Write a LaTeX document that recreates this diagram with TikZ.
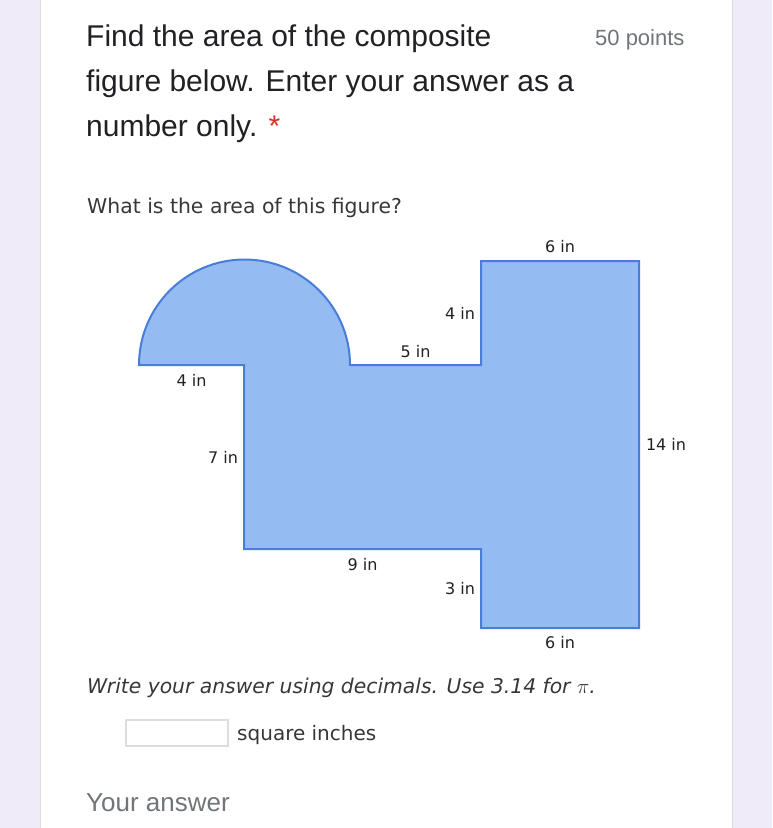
\documentclass[tikz,border=0pt]{standalone}
\usepackage{fontspec}
\setmainfont{Liberation Sans}
\newfontfamily\figfont{DejaVu Sans}
\usetikzlibrary{positioning}

\definecolor{pagebg}{HTML}{F0EBF8}
\definecolor{cardline}{HTML}{DADCE0}
\definecolor{inkdark}{HTML}{202124}
\definecolor{inkgray}{HTML}{70757A}
\definecolor{starred}{HTML}{D93025}
\definecolor{shapefill}{HTML}{94BCF2}
\definecolor{shapeline}{HTML}{4A7DD8}

\tikzset{
  title/.style = {anchor = base west, inner sep = 0pt, text = inkdark,
                  font = \fontsize{30}{36}\selectfont},
  prompt/.style = {anchor = base west, inner sep = 0pt, text = inkdark!90,
                   font = \figfont\fontsize{20.4}{24}\selectfont},
  lbl/.style = {inner sep = 0pt, text = inkdark,
                font = \figfont\fontsize{16}{18}\selectfont}
}

\begin{document}
\begin{tikzpicture}[x = 1pt, y = -1pt]

	\useasboundingbox (0, 0) rectangle (772, 828);
	\fill [pagebg] (0, 0) rectangle (772, 828);
	\draw [cardline, fill = white] (40, -2) rectangle (732, 830);

	% question header
	\node [title] (line1) at (86, 46) {Find the area of the composite};
	\node [title] (line2) at (86, 91) {figure below. Enter your answer as a};
	\node [title] (line3) at (86, 136) {number only. \textcolor{starred}{*}};
	\node [anchor = base west, inner sep = 0pt, text = inkgray,
	       font = \fontsize{22}{26}\selectfont] (points) at (595, 45) {50 points};

	\node [prompt] (ask) at (87, 213) {What is the area of this figure?};

	% composite figure
	\draw [shapeline, fill = shapefill, line width = 2pt, line join = miter]
		(139, 365) -- node [lbl, below = 8pt] {4 in} (244, 365)
		-- node [lbl, left = 5pt] {7 in} (244, 549)
		-- node [lbl, below = 8pt] {9 in} (481, 549)
		-- node [lbl, left = 5pt] {3 in} (481, 628)
		-- node [lbl, below = 7pt] {6 in} (639, 628)
		-- node [lbl, right = 6pt] {14 in} (639, 261)
		-- node [lbl, above = 7pt] {6 in} (481, 261)
		-- node [lbl, left = 5pt] {4 in} (481, 365)
		-- node [lbl, above = 6pt] {5 in} (350, 365)
		arc [start angle = 0, end angle = 180, radius = 105.5pt]
		-- cycle;

	% answer part
	\node [prompt, font = \figfont\itshape\fontsize{20.3}{24}\selectfont] (hint)
		at (87, 693) {Write your answer using decimals. Use 3.14 for $\pi$.};
	\node [draw = cardline, line width = 1.5pt, fill = white, minimum width = 102pt,
	       minimum height = 26pt, inner sep = 0pt] (box) at (177, 733) {};
	\node [prompt, font = \figfont\fontsize{20}{24}\selectfont] (unit)
		at (237, 740) {square inches};

	\node [anchor = base west, inner sep = 0pt, text = inkgray,
	       font = \fontsize{26}{30}\selectfont] (yours) at (86, 811) {Your answer};

\end{tikzpicture}
\end{document}
